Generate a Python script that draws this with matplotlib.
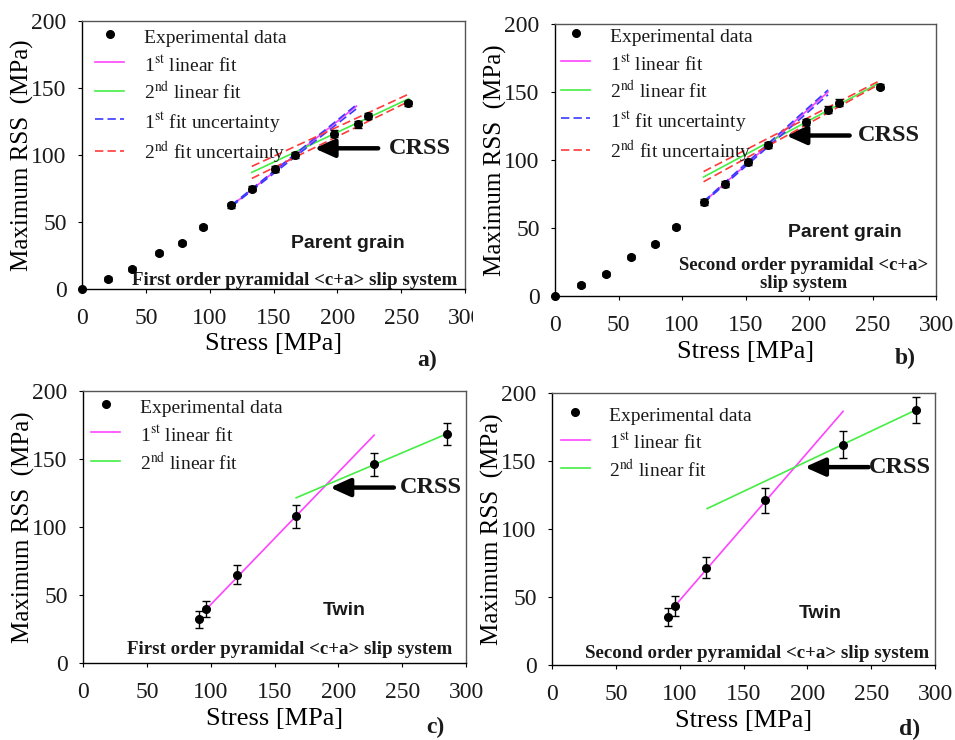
import numpy as np
import matplotlib
matplotlib.use("Agg")
import matplotlib.pyplot as plt
from matplotlib.lines import Line2D
from matplotlib.transforms import Bbox, TransformedBbox

plt.rcParams.update({
    "font.family": "Liberation Serif",
    "mathtext.fontset": "stix",
    "axes.linewidth": 1.0,
    "xtick.direction": "out",
    "ytick.direction": "out",
    "xtick.major.size": 3,
    "ytick.major.size": 3,
    "xtick.labelsize": 17,
    "ytick.labelsize": 17,
    "text.color": "#1a1a1a",
    "xtick.labelcolor": "#1a1a1a",
    "ytick.labelcolor": "#1a1a1a",
})

# ---- panel a: parent grain, first order pyramidal
a_x = [0, 20, 39, 60, 78, 95, 117, 133, 151, 167, 197, 216, 224, 255]
a_y = [0, 7.5, 15, 27, 34, 46, 62.5, 75, 89.5, 100, 116, 123, 129, 138.5]
a_err = [0, 1.5, 1.5, 1.5, 1.5, 1.5, 2, 2, 2.5, 2, 2.5, 2.5, 2.5, 2]
a_fit1_x, a_fit1_y = [117, 215], [62, 136.5]
a_fit2_x, a_fit2_y = [133, 256], [87, 142]
a_unc1_x = [117, 215]
a_unc1_hi, a_unc1_lo = [62.5, 137.5], [61.5, 134.5]
a_unc2_x = [133, 256]
a_unc2_hi, a_unc2_lo = [91.5, 145.5], [82.5, 140]
a_crss = (182, 105)

# ---- panel b: parent grain, second order pyramidal
b_x = [0, 20.5, 40, 60, 79, 95.5, 117, 134, 152, 168, 198, 215, 224, 256]
b_y = [0, 8, 16, 29, 38, 50.5, 69, 82.5, 98.5, 111, 128, 137, 142, 154]
b_err = [0, 1.5, 1.5, 1.5, 1.5, 1.5, 2, 2, 2.5, 2.5, 2.5, 2.5, 2.5, 2]
b_fit1_x, b_fit1_y = [117, 215], [69, 150]
b_fit2_x, b_fit2_y = [117, 254], [87.5, 156]
b_unc1_x = [117, 215]
b_unc1_hi, b_unc1_lo = [69.5, 151.5], [68.5, 148]
b_unc2_x = [117, 254]
b_unc2_hi, b_unc2_lo = [91.5, 157.5], [84, 155]
b_crss = (182, 118)

# ---- panel c: twin, first order pyramidal
c_x = [91, 96.5, 121, 166.5, 228, 285]
c_y = [32, 39.5, 65, 108, 146, 168.5]
c_err = [6.5, 6, 6.7, 8.5, 8.3, 8.2]
c_fit1_x, c_fit1_y = [96.5, 228], [39.5, 167.5]
c_fit2_x, c_fit2_y = [167, 285], [121.5, 168.5]
c_crss = (193.5, 129)

# ---- panel d: twin, second order pyramidal
d_x = [91, 96.3, 121, 167, 228, 285]
d_y = [35.5, 43.5, 71.5, 121, 162, 187.5]
d_err = [6.7, 7.4, 7.7, 9.3, 9.8, 9.4]
d_fit1_x, d_fit1_y = [96.3, 228], [43.5, 186.5]
d_fit2_x, d_fit2_y = [121.5, 285], [115, 187.5]
d_crss = (198, 145.5)

MAG, GRN, BLU, RED = "#ff44ff", "#44ee44", "#3a3aff", "#ff3a3a"
DASH = (5, 2.5)

fig = plt.figure(figsize=(9.55, 7.4), dpi=100)
W, H = 955.0, 740.0


def make_ax(l, t, r, b):
    ax = fig.add_axes([l / W, 1 - b / H, (r - l) / W, (b - t) / H])
    ax.set_xlim(0, 300)
    ax.set_ylim(0, 200)
    ax.set_xticks(np.arange(0, 301, 50))
    ax.set_yticks(np.arange(0, 201, 50))
    ax.tick_params(axis="x", pad=11)
    ax.tick_params(axis="y", pad=8)
    for s in ("top", "right"):
        ax.spines[s].set_color("#555555")
    ax.set_xlabel("Stress [MPa]", fontsize=19)
    ax.set_ylabel("Maximum RSS  (MPa)", fontsize=18)
    ax.xaxis.set_label_coords(0.5, -0.165)
    ax.yaxis.set_label_coords(-0.125, 0.5)
    return ax


def data_pts(ax, x, y, err):
    ax.errorbar(x, y, yerr=err, fmt="o", color="k", ms=5.5, elinewidth=1,
                capsize=3, capthick=1, zorder=5, clip_on=False)


def crss(ax, pos, tx):
    ax.annotate("", xy=pos, xytext=(pos[0] + 50, pos[1]),
                arrowprops=dict(arrowstyle="-|>,head_length=1.0,head_width=0.45",
                                lw=3.2, color="k", mutation_scale=12,
                                shrinkA=0, shrinkB=0))
    ax.text(tx, pos[1], "CRSS", fontsize=17.5, fontweight="bold",
            va="center", ha="left")


def legend(ax, n, x0, y0):
    h = [Line2D([], [], ls="none", marker="o", color="k", ms=5.5),
         Line2D([], [], color=MAG, lw=1.2),
         Line2D([], [], color=GRN, lw=1.2),
         Line2D([], [], color=BLU, lw=1.2, dashes=DASH),
         Line2D([], [], color=RED, lw=1.2, dashes=DASH)]
    labs = ["Experimental data",
            r"1$^{\mathrm{st}}$ linear fit",
            r"2$^{\mathrm{nd}}$ linear fit",
            r"1$^{\mathrm{st}}$ fit uncertainty",
            r"2$^{\mathrm{nd}}$ fit uncertainty"]
    ax.legend(h[:n], labs[:n], loc="upper left", bbox_to_anchor=(x0, y0),
              frameon=False, fontsize=14, borderpad=0, borderaxespad=0,
              handlelength=1.5, handletextpad=1.0, handleheight=1.45,
              labelspacing=0.27, numpoints=1)


def fits(ax, f1x, f1y, f2x, f2y):
    ax.plot(f1x, f1y, color=MAG, lw=1.2, zorder=3)
    ax.plot(f2x, f2y, color=GRN, lw=1.2, zorder=3)


def uncert(ax, u1x, u1h, u1l, u2x, u2h, u2l):
    for yy in (u1h, u1l):
        ax.plot(u1x, yy, color=BLU, lw=1.2, dashes=DASH, zorder=4)
    for yy in (u2h, u2l):
        ax.plot(u2x, yy, color=RED, lw=1.2, dashes=DASH, zorder=4)


# a)
ax = make_ax(82, 21, 465, 289)
fits(ax, a_fit1_x, a_fit1_y, a_fit2_x, a_fit2_y)
uncert(ax, a_unc1_x, a_unc1_hi, a_unc1_lo, a_unc2_x, a_unc2_hi, a_unc2_lo)
data_pts(ax, a_x, a_y, a_err)
crss(ax, a_crss, 240)
legend(ax, 5, 0.034, 0.985)
ax.text(208, 34, "Parent grain", family="Liberation Sans", fontweight="bold",
        fontsize=14, ha="center", va="center")
ax.text(39, 6, "First order pyramidal <c+a> slip system", fontweight="bold",
        fontsize=13.6, ha="left", va="center")
fig.text(427 / W, 1 - 360 / H, "a)", fontsize=17, fontweight="bold",
         ha="center", va="center")
clip = TransformedBbox(Bbox([[0, 0], [473 / W, 1]]), fig.transFigure)
for lb in ax.get_xticklabels():
    lb.set_clip_box(clip)
    lb.set_clip_on(True)

# b)
ax = make_ax(555, 24, 936, 296)
fits(ax, b_fit1_x, b_fit1_y, b_fit2_x, b_fit2_y)
uncert(ax, b_unc1_x, b_unc1_hi, b_unc1_lo, b_unc2_x, b_unc2_hi, b_unc2_lo)
data_pts(ax, b_x, b_y, b_err)
crss(ax, b_crss, 238.5)
legend(ax, 5, 0.016, 1.0)
ax.text(228, 46.5, "Parent grain", family="Liberation Sans", fontweight="bold",
        fontsize=14, ha="center", va="center")
ax.text(196, 16, "Second order pyramidal <c+a>\nslip system", fontweight="bold",
        fontsize=13.5, ha="center", va="center", linespacing=1.05)
fig.text(905 / W, 1 - 358 / H, "b)", fontsize=17, fontweight="bold",
         ha="center", va="center")

# c)
ax = make_ax(83, 391, 466, 663)
fits(ax, c_fit1_x, c_fit1_y, c_fit2_x, c_fit2_y)
data_pts(ax, c_x, c_y, c_err)
crss(ax, c_crss, 248)
legend(ax, 3, 0.021, 0.985)
ax.text(205, 38.5, "Twin", family="Liberation Sans", fontweight="bold",
        fontsize=14, ha="center", va="center")
ax.text(161.5, 10, "First order pyramidal <c+a> slip system", fontweight="bold",
        fontsize=13.6, ha="center", va="center")
fig.text(435 / W, 1 - 727 / H, "c)", fontsize=17, fontweight="bold",
         ha="center", va="center")

# d)
ax = make_ax(552, 393, 935, 665)
fits(ax, d_fit1_x, d_fit1_y, d_fit2_x, d_fit2_y)
data_pts(ax, d_x, d_y, d_err)
crss(ax, d_crss, 248.5)
legend(ax, 3, 0.023, 0.965)
ax.text(210, 38, "Twin", family="Liberation Sans", fontweight="bold",
        fontsize=14, ha="center", va="center")
ax.text(161, 8.5, "Second order pyramidal <c+a> slip system", fontweight="bold",
        fontsize=13.6, ha="center", va="center")
fig.text(910 / W, 1 - 729 / H, "d)", fontsize=17, fontweight="bold",
         ha="center", va="center")

fig.savefig("out.png", dpi=100)
